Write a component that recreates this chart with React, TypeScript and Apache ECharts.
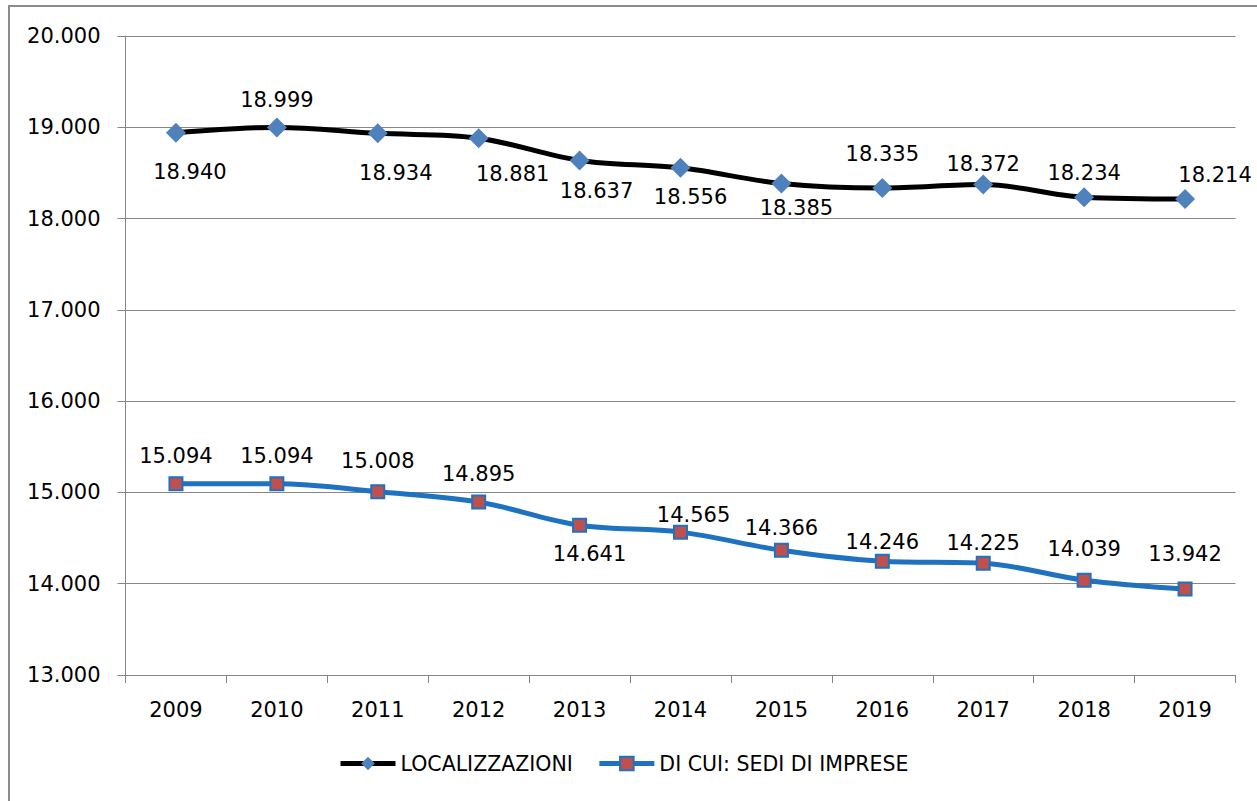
import React, { useEffect, useRef } from "react";
import * as echarts from "echarts";

const years = ["2009", "2010", "2011", "2012", "2013", "2014", "2015", "2016", "2017", "2018", "2019"];
const localizzazioni = [18940, 18999, 18934, 18881, 18637, 18556, 18385, 18335, 18372, 18234, 18214];
const sedi = [15094, 15094, 15008, 14895, 14641, 14565, 14366, 14246, 14225, 14039, 13942];
// label placement per point: [position, dx, distance]
const locLabelPos: [string, number, number][] = [
  ["bottom", 14, 19], ["top", 0, 7], ["bottom", 18, 19], ["bottom", 34, 15], ["bottom", 17, 10], ["bottom", 10, 9],
  ["bottom", 15, 4], ["top", 0, 13], ["top", 0, 0], ["top", 0, 4], ["top", 30, 4],
];
const sediLabelPos: [string, number, number][] = [
  ["top", 0, 10], ["top", 0, 10], ["top", 0, 13], ["top", 0, 10], ["bottom", 10, 11], ["top", 13, -1],
  ["top", 0, 4], ["top", 0, 1], ["top", 0, 2], ["top", 0, 13], ["top", 0, 17],
];

const FONT = "'DejaVu Sans', sans-serif";
const fmt = (v: number) => {
  const s = Math.round(v).toString();
  return s.length > 3 ? s.slice(0, s.length - 3) + "." + s.slice(-3) : s;
};

export default function App() {
  const ref = useRef<HTMLDivElement>(null);
  useEffect(() => {
    if (!ref.current) return;
    const chart = echarts.init(ref.current, undefined, { renderer: "svg" });
    const mkData = (vals: number[], pos: [string, number, number][]) =>
      vals.map((v, i) => ({
        value: v,
        label: {
          position: pos[i][0],
          distance: pos[i][2],
          offset: [pos[i][1], 0],
        },
      }));
    chart.setOption({
      animation: false,
      backgroundColor: "#fff",
      textStyle: { fontFamily: FONT },
      graphic: [
        {
          type: "rect",
          shape: { x: 9, y: 6, width: 1300, height: 900 },
          style: { fill: "none", stroke: "#8c8c8c", lineWidth: 2 },
          silent: true,
        },
      ],
      grid: { left: 125.5, right: 21.5, top: 36, bottom: 126 },
      legend: {
        bottom: 22,
        left: 333,
        itemWidth: 55,
        itemHeight: 17,
        itemGap: 24,
        lineStyle: { width: 5 },
        textStyle: { fontSize: 20.5, color: "#000", fontFamily: FONT },
        data: ["LOCALIZZAZIONI", "DI CUI: SEDI DI IMPRESE"],
      },
      xAxis: {
        type: "category",
        data: years,
        boundaryGap: true,
        axisLine: { lineStyle: { color: "#868686", width: 1 } },
        axisTick: { show: true, length: 8, lineStyle: { color: "#868686" } },
        axisLabel: { color: "#000", fontSize: 21, margin: 24 },
      },
      yAxis: {
        type: "value",
        min: 13000,
        max: 20000,
        interval: 1000,
        axisLine: { show: true, lineStyle: { color: "#868686", width: 1 } },
        axisTick: { show: true, inside: false, length: 8, lineStyle: { color: "#868686" } },
        splitLine: { lineStyle: { color: "#868686", width: 1 } },
        axisLabel: { color: "#000", fontSize: 21, margin: 25, formatter: (v: number) => fmt(v) },
      },
      series: [
        {
          name: "LOCALIZZAZIONI",
          type: "line",
          smooth: 0.35,
          data: mkData(localizzazioni, locLabelPos),
          symbol: "diamond",
          symbolSize: 20,
          lineStyle: { color: "#000", width: 5 },
          itemStyle: { color: "#4F81BD", borderWidth: 0 },
          label: {
            show: true,
            fontSize: 21,
            color: "#000",
            formatter: (p: any) => fmt(p.value),
          },
          z: 3,
        },
        {
          name: "DI CUI: SEDI DI IMPRESE",
          type: "line",
          smooth: 0.35,
          data: mkData(sedi, sediLabelPos),
          symbol: "rect",
          symbolSize: 13,
          lineStyle: { color: "#1F72C0", width: 5 },
          itemStyle: { color: "#C0504D", borderColor: "#1F72C0", borderWidth: 2 },
          label: {
            show: true,
            fontSize: 21,
            color: "#000",
            formatter: (p: any) => fmt(p.value),
          },
          z: 3,
        },
      ],
    });
    return () => chart.dispose();
  }, []);
  return (
    <div
      ref={ref}
      style={{ position: "fixed", left: 0, top: 0, width: 1257, height: 801 }}
    />
  );
}
